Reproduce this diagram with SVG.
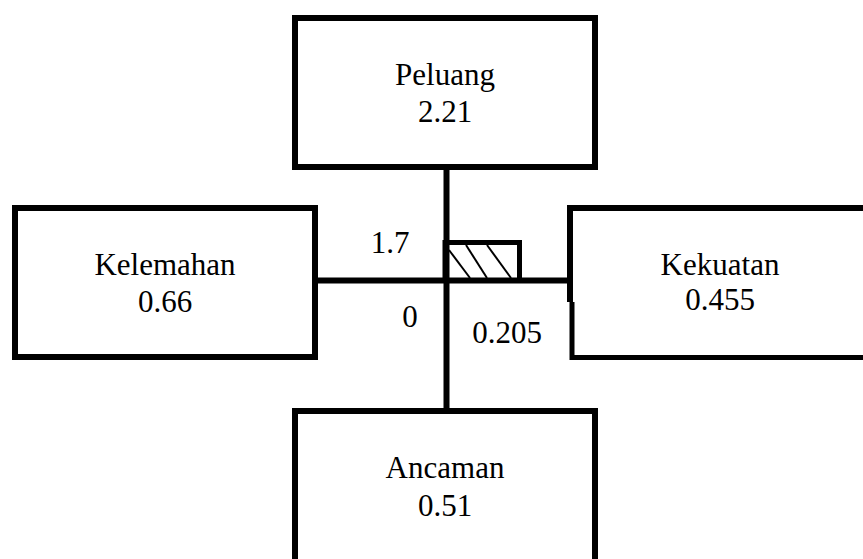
<svg xmlns="http://www.w3.org/2000/svg" width="863" height="559" viewBox="0 0 863 559">
  <style>
    .box { fill: #ffffff; stroke: #000000; stroke-width: 6; }
    .edge { fill: none; stroke: #000000; stroke-width: 6; }
    .thin { fill: none; stroke: #000000; stroke-width: 2; }
    .hatch { fill: none; stroke: #000000; stroke-width: 2; }
    text { font-family: "Liberation Serif", "Times New Roman", serif; font-size: 31px; fill: #000000; text-anchor: middle; }
  </style>
  <rect width="863" height="559" fill="#ffffff"/>

  <!-- axes and the resulting quadrant marker -->
  <g id="connectors">
    <line class="edge" x1="446.5" y1="168" x2="446.5" y2="412"/>
    <line class="edge" x1="318" y1="280.5" x2="570" y2="280.5"/>
    <path d="M445,280 V242.5 H519.5 V280" fill="none" stroke="#000" stroke-width="5"/>
    <line class="hatch" x1="449" y1="250" x2="470" y2="278"/>
    <line class="hatch" x1="466" y1="245" x2="487" y2="278"/>
    <line class="hatch" x1="487" y1="245" x2="511" y2="278"/>
  </g>

  <g id="peluang">
    <rect class="box" x="295" y="18" width="300" height="149"/>
    <text x="445" y="85">Peluang</text>
    <text x="445" y="122">2.21</text>
  </g>

  <g id="kelemahan">
    <rect class="box" x="15" y="208" width="300" height="149"/>
    <text x="165" y="275">Kelemahan</text>
    <text x="165" y="312">0.66</text>
  </g>

  <g id="kekuatan">
    <rect x="571" y="208" width="300" height="149" fill="#ffffff"/>
    <path class="edge" d="M866,208 H570 V302"/>
    <path d="M572,302 V357.5 H866" fill="none" stroke="#000" stroke-width="5"/>
    <text x="720" y="275">Kekuatan</text>
    <text x="720" y="310">0.455</text>
  </g>

  <g id="ancaman">
    <path class="box" d="M295,566 V411 H595 V566"/>
    <text x="445" y="478">Ancaman</text>
    <text x="445" y="516">0.51</text>
  </g>

  <g id="axis-labels">
    <text x="390" y="253">1.7</text>
    <text x="410" y="327">0</text>
    <text x="507" y="343">0.205</text>
  </g>
</svg>
